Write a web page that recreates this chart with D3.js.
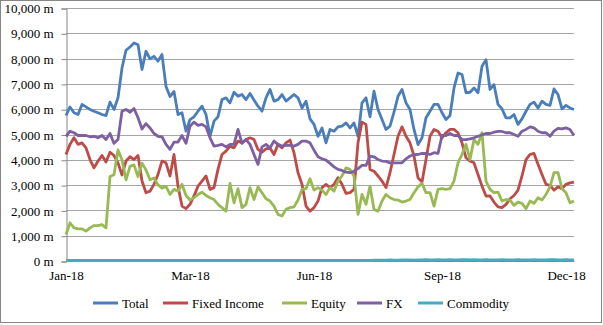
<!DOCTYPE html>
<html lang="en">
<head>
<meta charset="utf-8">
<title>Daily volumes 2018</title>
<script src="https://cdn.jsdelivr.net/npm/d3@7/dist/d3.min.js"></script>
<style>
  body { margin: 0; background: #fff; }
  text { font-family: "Liberation Serif", "Times New Roman", serif; fill: #000; }
  .grid line { stroke: #a6a6a6; stroke-width: 1; }
</style>
</head>
<body>
<script>
// tick labels on the category axis and the point index each sits at
var tickLabels = ["Jan-18", "Mar-18", "Jun-18", "Sep-18", "Dec-18"];
var tickIndex = [0, 31, 62, 94, 125];

var seriesNames = ["Total", "Fixed Income", "Equity", "FX", "Commodity"];

// values, in m
var total = [5750,6090,5860,5790,6190,6090,5990,5920,5860,5790,5750,6280,5990,6450,7630,8330,8460,8620,8550,7570,8290,7990,8090,7900,8160,6900,
  6500,6700,5790,5860,5130,5590,5700,5920,6120,5790,4930,5530,5700,6380,6450,6250,6670,6510,6580,6380,6620,6360,6120,5920,6450,6780,
  6320,6380,6580,6320,6450,6580,6450,6050,6320,5620,5400,4930,5260,4670,5200,5130,5300,5330,5460,5260,5460,4930,6250,6450,5700,
  6710,5990,5590,5200,5330,5880,6510,6780,6250,5990,5200,4600,4870,5660,5920,6190,6190,5860,5590,5750,6840,7430,7370,6650,6670,6840,
  6650,7700,7960,6780,6970,6190,6010,5660,5660,5790,5400,5620,5920,6190,6280,6050,6320,6190,6150,6800,6580,6010,6150,6050,5990];

var fixedIncome = [4210,4610,4870,4610,4670,4470,4010,3680,3950,4170,3910,4300,4170,3880,3400,3950,4120,4010,4170,3160,2700,2760,3030,3420,3950,3880,
  3360,4210,2960,2170,2070,2240,2570,2960,3160,3360,2830,2900,3620,4210,4340,4540,4470,4740,4670,4800,4870,4800,4410,4300,4430,4470,
  4210,4610,4470,4670,4780,4280,3490,3030,2170,1970,2110,2370,2900,3030,2900,3030,3290,3030,2670,2700,2830,4670,5490,5400,3620,
  3550,3360,3160,2900,3490,4210,4930,5300,4930,4670,4150,3290,3120,4010,4930,5200,5130,4870,5070,5200,5200,5070,4670,4080,3950,3880,
  3420,2960,2570,2570,2330,2140,2110,2240,2460,2590,2800,3360,4010,4210,4250,3820,3420,3030,2990,2800,2930,2860,3030,3090,3120];

var equity = [1050,1510,1310,1270,1270,1180,1310,1400,1400,1440,1310,3340,3410,4390,4000,3210,3740,3800,3340,3870,3600,3210,3280,3010,2880,2950,
  2630,2830,2760,3030,2590,2410,2500,2630,2720,2590,2500,2430,2240,2110,1970,3070,2300,2860,2110,2240,2900,2430,2930,2700,2460,2370,
  2170,1840,1780,2040,2110,2140,2410,2830,2860,3250,2800,2900,2800,2630,2900,2760,3160,3360,3680,3620,3360,1840,2630,2240,2960,
  2040,1970,2370,2630,2500,2430,2410,2330,2370,2430,2700,2930,3070,2700,2700,2170,2830,2860,2830,2860,3160,3880,4210,4610,4010,4800,
  4610,5070,3160,2830,2700,2720,2370,2430,2410,2200,2330,2280,2070,2370,2280,2500,2410,2630,2930,3490,3490,2860,2700,2300,2370];

var fx = [4930,5130,5070,4960,4960,4960,4910,4930,4870,4960,4800,5040,4650,4800,5920,5990,5880,6030,5660,5220,5430,5260,5040,4930,4910,4610,
  4410,4700,4700,4960,4650,5330,5490,5360,5400,5300,4870,4540,4570,4610,4510,4610,4610,5200,4650,4800,4610,4210,3820,4510,4610,4470,
  4740,4610,4540,4570,4570,4540,4610,4740,4740,4670,4380,4120,4040,3990,3860,3720,3620,3580,3510,3490,3550,3650,3780,3780,4150,
  4120,4010,3950,3940,3880,3880,3880,3880,4040,4150,4200,4210,4250,4250,4210,4280,4250,4960,4960,5040,4960,4960,4800,4800,4830,4870,
  4930,4990,5040,5040,5090,5120,5120,5070,5070,5000,4930,5130,5200,5300,5260,5130,5070,5070,4930,5130,5240,5220,5260,5200,4960];

var commodity = [20,20,25,20,20,25,20,20,20,25,20,20,25,20,20,25,20,20,20,25,20,20,25,20,20,20,
  25,20,20,25,20,20,20,25,20,20,25,20,20,20,25,20,20,25,20,20,20,25,20,20,25,20,
  20,25,20,20,25,20,20,20,25,20,20,25,20,20,25,20,20,25,20,20,25,20,20,25,25,
  30,30,35,30,40,35,30,40,45,40,35,40,45,50,40,45,50,45,40,50,45,40,50,55,45,50,
  45,40,50,45,40,45,50,40,45,40,50,45,40,45,50,45,40,45,50,55,45,40,50,45,40];

var seriesData = [total, fixedIncome, equity, fx, commodity];
var colors = ["#4a7ebb", "#be4b48", "#98b954", "#7d60a0", "#46aac5"];

var w = 603, h = 325;
var plotLeft = 66, plotRight = 574, plotTop = 8, plotBottom = 261;

var svg = d3.select("body").append("svg")
  .attr("width", w)
  .attr("height", h);

// outer frame
svg.append("rect")
  .attr("x", 0.5).attr("y", 0.5)
  .attr("width", w - 2).attr("height", h - 3)
  .attr("fill", "#fff")
  .attr("stroke", "#868686");

var x = d3.scaleLinear().domain([0, total.length - 1]).range([plotLeft, plotRight]);
var y = d3.scaleLinear().domain([0, 10000]).range([plotBottom, plotTop]);

// gridlines
svg.append("g")
  .attr("class", "grid")
  .selectAll("line")
  .data(y.ticks(10))
  .enter().append("line")
  .attr("x1", plotLeft).attr("x2", plotRight)
  .attr("y1", function (d) { return Math.round(y(d)) + 0.5; })
  .attr("y2", function (d) { return Math.round(y(d)) + 0.5; });

// y axis
var yAxis = d3.axisLeft(y)
  .ticks(10)
  .tickSize(5)
  .tickPadding(8)
  .tickFormat(function (d) { return d3.format(",")(d) + " m"; });

var gy = svg.append("g")
  .attr("transform", "translate(" + (plotLeft + 0.5) + ",0.5)")
  .call(yAxis);
gy.select(".domain").attr("stroke", "#868686");
gy.selectAll(".tick line").attr("stroke", "#868686");
gy.selectAll("text")
  .style("font-size", "13px")
  .style("font-family", "'Liberation Serif', serif");

// x axis labels
var xAxis = d3.axisBottom(x)
  .tickValues(tickIndex)
  .tickSize(0)
  .tickPadding(10)
  .tickFormat(function (d, i) { return tickLabels[i]; });

var gx = svg.append("g")
  .attr("transform", "translate(0," + plotBottom + ")")
  .call(xAxis);
gx.select(".domain").attr("stroke", "#868686");
gx.selectAll("text")
  .style("font-size", "13px")
  .style("font-family", "'Liberation Serif', serif");

// lines
var line = d3.line()
  .x(function (d, i) { return x(i); })
  .y(function (d) { return y(d); });

svg.append("g")
  .selectAll("path")
  .data(seriesData)
  .enter().append("path")
  .attr("d", line)
  .attr("fill", "none")
  .attr("stroke", function (d, i) { return colors[i]; })
  .attr("stroke-width", 2.8)
  .attr("stroke-linejoin", "round");

// legend
var legendX = [93, 163, 282, 357, 418];
var lg = svg.append("g").attr("transform", "translate(0,303)");
var item = lg.selectAll("g")
  .data(seriesNames)
  .enter().append("g")
  .attr("transform", function (d, i) { return "translate(" + legendX[i] + ",0)"; });
item.append("line")
  .attr("x1", 0).attr("x2", 25)
  .attr("stroke", function (d, i) { return colors[i]; })
  .attr("stroke-width", 3);
item.append("text")
  .attr("x", 29)
  .attr("dy", "0.35em")
  .style("font-size", "13px")
  .text(function (d) { return d; });
</script>
</body>
</html>
